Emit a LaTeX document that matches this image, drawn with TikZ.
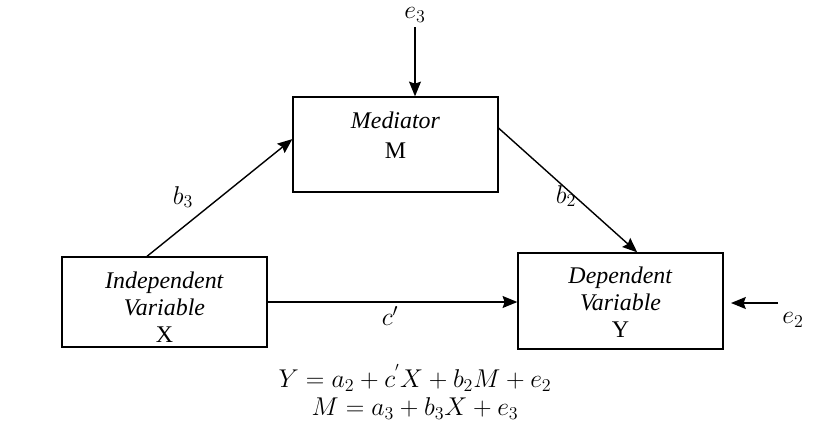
\RequirePackage{fix-cm}
\documentclass[tikz,border=0pt]{standalone}
\usepackage{amsmath}
\usepackage{fontspec}
\setmainfont{Liberation Serif}
\usetikzlibrary{arrows.meta}
\usetikzlibrary{positioning}

\tikzset{
	box/.style={draw, line width=0.9pt, minimum width=5.125cm, inner sep=0pt},
	txt/.style={align=center, font=\fontsize{17}{19}\selectfont},
	mth/.style={font=\fontsize{18.3}{21}\selectfont},
	arr/.style={-{Stealth[length=10.5pt,width=8.5pt,inset=1.5pt]}, line width=1pt}
}

\begin{document}
\begin{tikzpicture}[x=0.025cm, y=-0.025cm, every node/.style={font=\fontsize{17}{19}\selectfont}]
			\useasboundingbox (0,0) rectangle (820,428);
			% the three variables
			\node [box, minimum height=2.375cm] (med) at (395.5,144.5) {};
			\node [box, minimum height=2.25cm] (ind) at (164.5,302) {};
			\node [box, minimum height=2.4cm] (dep) at (620.5,301) {};
			\node [txt, font=\fontsize{17}{21}\selectfont] (medtxt) at (395.5,135) {\textit{Mediator}\\M};
			\node [txt] (indtxt) at (164.5,307) {\textit{Independent}\\\textit{Variable}\\X};
			\node [txt] (deptxt) at (620.5,302) {\textit{Dependent}\\\textit{Variable}\\Y};
			% error terms
			\node [mth] (e3) at (415,15) {$e_3$};
			\node [mth] (e2) at (793,320) {$e_2$};
			\coordinate (e2from) at (778,303);
			\coordinate (e2to) at (731,303);
			% paths
			\draw [arr] (ind.111) -- (med.177);
			\draw [arr] (med.9) -- (dep.71);
			\draw [arr] (ind.east) -- (ind.east -| dep.west);
			\draw [arr] (e3) -- (e3 |- med.north);
			\draw [arr] (e2from) -- (e2to);
			\node [mth] (b3) at (183,197) {$b_3$};
			\node [mth] (b2) at (566,196) {$b_2$};
			\node [mth] (cp) at (390,316) {$c'$};
			% model equations
			\node [mth, align=center, font=\fontsize{18.3}{19.9}\selectfont] (eqs) at (415,392)
				{$Y = a_2 + c^{'}X + b_2M + e_2$\\$M = a_3 + b_3X + e_3$};
		\end{tikzpicture}
\end{document}
